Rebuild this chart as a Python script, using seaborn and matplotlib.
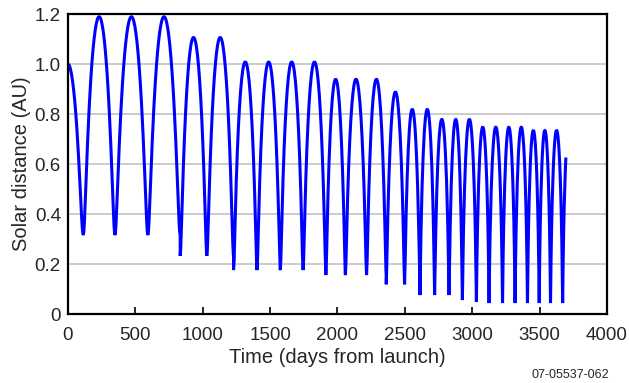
import numpy as np
import pandas as pd
import matplotlib
matplotlib.use("Agg")
import matplotlib.pyplot as plt
import seaborn as sns

# ---- data ----
# days of each perihelion passage
peri_days = [114, 349, 593, 833, 1031, 1229, 1403, 1576, 1745, 1914, 2059, 2216,
             2362, 2498, 2612, 2721, 2828, 2927, 3031, 3125, 3225, 3318, 3410,
             3497, 3581, 3671]
# perihelion distance (AU) of each arc (launch arc first, then arc after each perihelion)
arc_peri_au = [0.316, 0.316, 0.316, 0.316, 0.233, 0.233, 0.176, 0.176, 0.176, 0.176,
               0.156, 0.156, 0.156, 0.119, 0.119, 0.076, 0.076, 0.076, 0.056, 0.049,
               0.044, 0.044, 0.044, 0.044, 0.044, 0.044, 0.044]
# aphelion distance (AU) of each arc
arc_aph_au = [1.0, 1.19, 1.19, 1.19, 1.107, 1.107, 1.009, 1.009, 1.009, 1.009,
              0.94, 0.94, 0.94, 0.889, 0.82, 0.82, 0.78, 0.78, 0.78, 0.749,
              0.749, 0.749, 0.749, 0.736, 0.736, 0.736, 0.736]
launch_day = 0
end_day = 3695
x_ticks = [0, 500, 1000, 1500, 2000, 2500, 3000, 3500, 4000]
y_ticks = [0, 0.2, 0.4, 0.6, 0.8, 1.0, 1.2]
y_tick_labels = ["0", "0.2", "0.4", "0.6", "0.8", "1.0", "1.2"]

# ---- build the trajectory: Keplerian arcs between perihelion passages ----
starts = [2 * launch_day - peri_days[0]] + peri_days
ends = peri_days + [peri_days[-1] + (peri_days[-1] - peri_days[-2])]
step = 4.0
rows_t, rows_r = [], []
for t0, t1, rp, ra in zip(starts, ends, arc_peri_au, arc_aph_au):
    a = (rp + ra) / 2
    e = (ra - rp) / (ra + rp)
    t = np.unique(np.concatenate([np.arange(t0, t1, step), [t0, t1],
                                  [launch_day, end_day]]))
    t = t[(t >= max(t0, launch_day)) & (t <= min(t1, end_day))]
    M = 2 * np.pi * (t - t0) / (t1 - t0)
    E = np.full_like(M, np.pi)
    for _ in range(40):
        E = E - (E - e * np.sin(E) - M) / (1 - e * np.cos(E))
    r = a * (1 - e * np.cos(E))
    rows_t.append(t)
    rows_r.append(r)
df = pd.DataFrame({"day": np.concatenate(rows_t), "au": np.concatenate(rows_r)})

# ---- plot ----
sns.set_style("white")
plt.rcParams["font.family"] = ["Liberation Sans", "DejaVu Sans"]

fig = plt.figure(figsize=(6.29, 3.83), dpi=100)
ax = fig.add_axes([0.108, 0.180, 0.857, 0.783])

ax.yaxis.grid(True, color="#c4c4c4", lw=1.2)
ax.xaxis.grid(False)
ax.set_axisbelow(True)

sns.lineplot(data=df, x="day", y="au", sort=False, estimator=None,
             color="#0000ff", lw=2.2, ax=ax,
             solid_joinstyle="bevel", solid_capstyle="butt")

ax.set_xlim(0, 4000)
ax.set_ylim(0, 1.2)
ax.set_xticks(x_ticks)
ax.set_xticklabels([str(v) for v in x_ticks])
ax.set_yticks(y_ticks)
ax.set_yticklabels(y_tick_labels)
ax.tick_params(axis="x", direction="in", length=5, width=1.2, color="black",
               labelsize=13.5, pad=9, bottom=True)
ax.tick_params(axis="y", length=0, labelsize=13.5, pad=5, left=True)
for s in ax.spines.values():
    s.set_visible(True)
    s.set_color("black")
    s.set_linewidth(1.6)

ax.set_xlabel("Time (days from launch)", fontsize=14.5, labelpad=3)
ax.set_ylabel("Solar distance (AU)", fontsize=14.5, labelpad=3)

fig.text(0.968, 0.022, "07-05537-062", ha="right", va="center", fontsize=9)

fig.savefig("out.png", dpi=100)
